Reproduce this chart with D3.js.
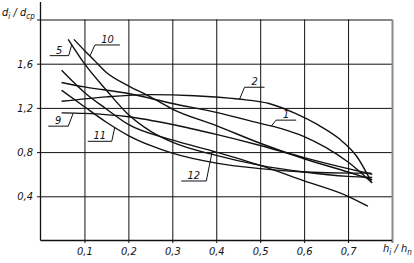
<!DOCTYPE html>
<html>
<head>
<meta charset="utf-8">
<script src="https://cdn.jsdelivr.net/npm/d3@7"></script>
<style>
  body { margin: 0; background: #fff; }
  text { font-family: "Liberation Sans Narrow", "DejaVu Sans Condensed", "Liberation Sans", sans-serif; font-style: italic; fill: #111; }
</style>
</head>
<body>
<script>
// tick values
var xTicks = [0.1, 0.2, 0.3, 0.4, 0.5, 0.6, 0.7, 0.8];
var yTicks = [0.4, 0.8, 1.2, 1.6, 2.0];

// curves, [h_i/h_n, d_i/d_cp]
var curve1 = [[0.048,1.43],[0.1,1.39],[0.2,1.33],[0.3,1.24],[0.4,1.16],[0.5,1.06],[0.55,1.01],[0.6,0.94],[0.65,0.84],[0.7,0.71],[0.755,0.52]];
var curve2 = [[0.048,1.26],[0.15,1.30],[0.25,1.32],[0.35,1.31],[0.45,1.28],[0.52,1.24],[0.58,1.15],[0.63,1.05],[0.68,0.92],[0.72,0.76],[0.753,0.53]];
var curve5 = [[0.063,1.82],[0.1,1.60],[0.15,1.36],[0.2,1.14],[0.25,0.99],[0.3,0.89],[0.4,0.77],[0.5,0.68],[0.6,0.62],[0.7,0.58],[0.755,0.57]];
var curve9 = [[0.048,1.155],[0.1,1.15],[0.2,1.12],[0.3,1.05],[0.4,0.96],[0.5,0.86],[0.6,0.75],[0.7,0.65],[0.755,0.60]];
var curve10 = [[0.076,1.82],[0.1,1.72],[0.12,1.64],[0.15,1.52],[0.2,1.40],[0.25,1.30],[0.3,1.19],[0.4,1.04],[0.5,0.88],[0.6,0.74],[0.7,0.62],[0.755,0.55]];
var curve11 = [[0.048,1.36],[0.1,1.21],[0.15,1.07],[0.2,0.95],[0.25,0.86],[0.3,0.79],[0.4,0.70],[0.5,0.65],[0.6,0.62],[0.7,0.61],[0.753,0.61]];
var curve12 = [[0.048,1.54],[0.1,1.34],[0.15,1.19],[0.2,1.05],[0.3,0.91],[0.4,0.80],[0.5,0.68],[0.6,0.54],[0.7,0.40],[0.745,0.31]];

var curves = [
  {name: "1", pts: curve1, at: 0.525},
  {name: "2", pts: curve2, at: 0.453},
  {name: "5", pts: curve5, at: 0.071},
  {name: "9", pts: curve9, at: 0.0745},
  {name: "10", pts: curve10, at: 0.1125},
  {name: "11", pts: curve11, at: 0.169},
  {name: "12", pts: curve12, at: 0.391}
];

var W = 414, H = 263;
var svg = d3.select("body").append("svg")
  .attr("width", W)
  .attr("height", H)

var x = d3.scaleLinear().domain([0, 0.8]).range([40.5, 392]);
var y = d3.scaleLinear().domain([0, 2]).range([240.5, 19.5]);

var loc = d3.formatLocale({decimal: ",", thousands: " ", grouping: [3], currency: ["", ""]});
var fmt = loc.format(".1f");

// y grid + labels
var yAxis = svg.append("g")
  .attr("transform", "translate(37,0)")
  .call(d3.axisLeft(y).tickValues(yTicks).tickSize(-(392 - 37)).tickSizeOuter(0)
    .tickPadding(4)
    .tickFormat(function(d) { return d >= 2 ? "" : fmt(d); }));
yAxis.select(".domain").remove();
yAxis.selectAll("line").attr("stroke", "#111").attr("stroke-width", 1);
yAxis.selectAll("text").style("font-size", "11px");

// x grid + labels
var xAxis = svg.append("g")
  .attr("transform", "translate(0,243)")
  .call(d3.axisBottom(x).tickValues(xTicks).tickSize(-(243 - 19.5)).tickSizeOuter(0)
    .tickPadding(4)
    .tickFormat(function(d) { return d >= 0.8 ? "" : fmt(d); }));
xAxis.select(".domain").remove();
xAxis.selectAll("line").attr("stroke", "#111").attr("stroke-width", 1);
xAxis.selectAll("text").style("font-size", "11px");
// right border is grey and heavier
xAxis.selectAll(".tick").filter(function(d) { return d >= 0.8; }).select("line")
  .attr("stroke", "#888").attr("stroke-width", 2);

// main axes
svg.append("line").attr("x1", x(0)).attr("x2", x(0)).attr("y1", 2).attr("y2", y(0))
  .attr("stroke", "#111").attr("stroke-width", 1.3);
svg.append("line").attr("x1", x(0)).attr("x2", x(0.8)).attr("y1", y(0)).attr("y2", y(0))
  .attr("stroke", "#111").attr("stroke-width", 1.3);

// axis titles
var yt = svg.append("text").attr("x", 2).attr("y", 16).style("font-size", "11px");
yt.append("tspan").text("d");
yt.append("tspan").attr("dy", 3).style("font-size", "8px").text("i");
yt.append("tspan").attr("dy", -3).text(" / d");
yt.append("tspan").attr("dy", 3).style("font-size", "8px").text("cp");

var xt = svg.append("text").attr("x", 383).attr("y", 252).style("font-size", "11px");
xt.append("tspan").text("h");
xt.append("tspan").attr("dy", 3).style("font-size", "8px").text("i");
xt.append("tspan").attr("dy", -3).text(" / h");
xt.append("tspan").attr("dy", 3).style("font-size", "8px").text("n");

// curves
var line = d3.line()
  .x(function(d) { return x(d[0]); })
  .y(function(d) { return y(d[1]); })
  .curve(d3.curveMonotoneX);

svg.append("g").selectAll("path")
  .data(curves)
  .enter()
  .append("path")
  .attr("d", function(d) { return line(d.pts); })
  .attr("fill", "none")
  .attr("stroke", "#111")
  .attr("stroke-width", 1.4);

// label leaders: dx,dy from anchor to the shelf end, shelf length (neg = to the left)
var leader = {
  "1": [5, -6, 20],
  "2": [5, -12, 20],
  "5": [-3, 11, -19],
  "9": [-5, 13, -20],
  "10": [5, -11, 25],
  "11": [-3, 14, -24],
  "12": [-6, 30, -25]
};

function yAt(pts, xv) {
  for (var i = 1; i < pts.length; i++) {
    if (xv <= pts[i][0]) {
      var t = (xv - pts[i-1][0]) / (pts[i][0] - pts[i-1][0]);
      return pts[i-1][1] + t * (pts[i][1] - pts[i-1][1]);
    }
  }
  return pts[pts.length-1][1];
}

curves.forEach(function(c) {
  var L = leader[c.name];
  var ax = x(c.at), ay = y(yAt(c.pts, c.at));
  var sx = ax + L[0], sy = ay + L[1];
  var ex = sx + L[2];
  svg.append("path")
    .attr("d", "M" + ax + "," + ay + "L" + sx + "," + sy + "L" + ex + "," + sy)
    .attr("fill", "none")
    .attr("stroke", "#111")
    .attr("stroke-width", 1);
  svg.append("text")
    .attr("x", (sx + ex) / 2)
    .attr("y", sy - 2)
    .attr("text-anchor", "middle")
    .style("font-size", "11px")
    .text(c.name);
});
</script>
</body>
</html>
